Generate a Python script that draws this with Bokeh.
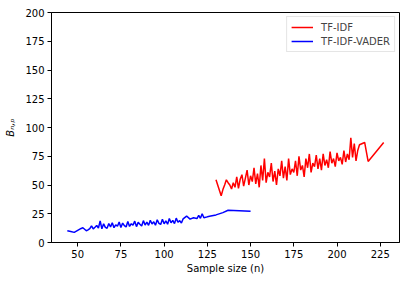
from bokeh.plotting import figure
from bokeh.models import Legend, LegendItem, FixedTicker
from bokeh.embed import file_html
from bokeh.resources import INLINE

# TF-IDF-VADER (blue)
vader_n = [44, 46, 48, 50, 52, 53, 55, 56,
           57, 58, 59, 60, 61, 62, 63, 64, 65, 66, 67, 68, 69, 70,
           71, 72, 73, 74, 75, 76, 77, 78, 79, 80, 81, 82, 83, 84,
           85, 86, 87, 88, 89, 90, 91, 92, 93, 94, 95, 96, 97, 98,
           99, 100, 101, 102, 103, 104, 105, 106, 107, 108, 109, 110, 111,
           113, 115, 117, 119, 120, 121, 122, 123, 125, 127, 130, 134, 137, 150]
vader_b = [10.2, 9.5, 8.8, 10.5, 12.2, 12.8, 10.2, 11.0,
           12.0, 14.5, 11.8, 13.2, 14.8, 12.6, 18.8, 11.9, 16.2, 13.1, 12.4, 16.5, 13.6, 17.2,
           12.9, 15.4, 14.1, 17.8, 13.0, 16.9, 14.6, 13.5, 18.2, 14.0, 16.3, 15.1, 18.6, 13.8,
           17.5, 15.9, 14.4, 19.0, 15.2, 17.7, 14.9, 19.4, 16.1, 18.0, 15.0, 19.8, 16.6, 15.7,
           20.2, 16.3, 18.9, 15.9, 20.8, 17.1, 19.3, 16.4, 21.2, 17.6, 19.0, 17.0, 20.6,
           23.0, 20.3, 21.5, 20.8, 23.5, 21.0, 25.0, 21.5, 22.3, 23.0, 24.0, 26.0, 28.0, 27.2]

# TF-IDF (red)
tfidf_n = [130, 133, 134, 135, 136, 137, 138, 139, 140, 141, 142, 143, 144, 145,
           146, 147, 148, 149, 150, 151, 152, 153, 154, 155, 156, 157, 158, 159,
           160, 161, 162, 163, 164, 165, 166, 167, 168, 169, 170, 171, 172, 173,
           174, 175, 176, 177, 178, 179, 180, 181, 182, 183, 184, 185, 186, 187,
           188, 189, 190, 191, 192, 193, 194, 195, 196, 197, 198, 199, 200, 201,
           202, 203, 204, 205, 206, 207, 208, 209, 210, 211, 212, 213, 216, 218, 227]
tfidf_b = [54.5, 40.6, 46, 50, 54.5, 52, 50, 46.5, 52, 48, 57, 47, 55, 59,
           49, 56, 63, 50, 58, 53, 65, 51, 60, 48, 67, 54, 73, 52,
           61, 57, 69, 53, 62, 50, 64, 58, 71, 56, 66, 54, 73, 59,
           64, 61, 71, 58, 75, 63, 67, 57, 73, 65, 77, 61, 69, 66,
           76, 64, 73, 63, 77, 67, 72, 65, 79, 69, 73, 66, 78, 71,
           74, 68, 80, 70, 77, 72, 91, 74, 86, 71, 80, 85, 87, 70.5, 87]

x_ticks = [50, 75, 100, 125, 150, 175, 200, 225]
y_ticks = [0, 25, 50, 75, 100, 125, 150, 175, 200]

FONT = "DejaVu Sans"

p = figure(width=407, height=281, output_backend="svg", toolbar_location=None,
           x_range=(34.85, 236.15), y_range=(0, 200),
           min_border_left=51, min_border_right=8, min_border_top=12, min_border_bottom=39)
p.background_fill_color = "white"
p.border_fill_color = "white"
p.outline_line_color = "black"
p.outline_line_width = 1
p.xgrid.visible = False
p.ygrid.visible = False

r1 = p.line(tfidf_n, tfidf_b, line_color="#ff0000", line_width=1.5)
r2 = p.line(vader_n, vader_b, line_color="#0000ff", line_width=1.5)

for ax in (p.xaxis[0], p.yaxis[0]):
    ax.major_label_text_font = FONT
    ax.major_label_text_font_size = "10px"
    ax.major_label_text_color = "black"
    ax.axis_label_text_font = FONT
    ax.axis_label_text_font_size = "10px"
    ax.axis_label_text_font_style = "normal"
    ax.axis_label_text_color = "black"
    ax.minor_tick_line_color = None
    ax.major_tick_out = 4
    ax.major_tick_in = 0
    ax.major_tick_line_color = "black"
    ax.axis_line_color = "black"
    ax.major_label_standoff = 3

p.xaxis.ticker = FixedTicker(ticks=x_ticks)
p.yaxis.ticker = FixedTicker(ticks=y_ticks)
p.xaxis.axis_label = "Sample size (n)"
p.xaxis.axis_label_standoff = 2
p.yaxis.axis_label = "Bₙ,ₚ"
p.yaxis.axis_label_text_font_style = "italic"
p.yaxis.axis_label_standoff = 6

legend = Legend(items=[LegendItem(label="TF-IDF", renderers=[r1]),
                       LegendItem(label="TF-IDF-VADER", renderers=[r2])],
                location="top_right")
legend.label_text_font = FONT
legend.label_text_font_size = "10px"
legend.border_line_color = "#cccccc"
legend.border_line_width = 1
legend.glyph_width = 22
legend.glyph_height = 12
legend.label_height = 12
legend.spacing = 2
legend.padding = 4
legend.margin = 4
legend.label_standoff = 8
p.add_layout(legend)

open("out.html", "w").write(file_html(p, INLINE))
